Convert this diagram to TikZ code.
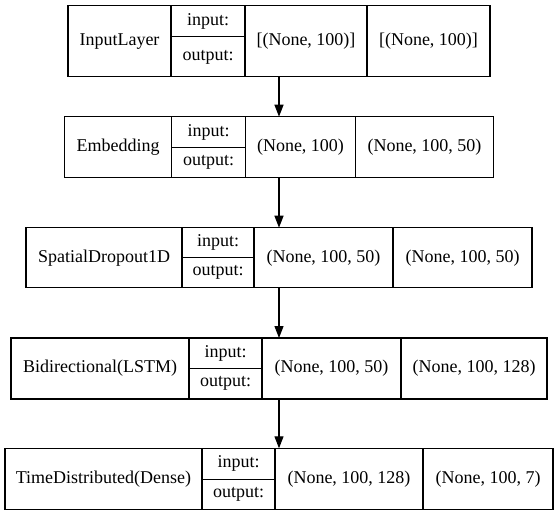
\documentclass[tikz,border=0pt]{standalone}
\usepackage{fontspec}
\setmainfont{Liberation Serif}
\newfontfamily\graphfont{Liberation Serif}
\usetikzlibrary{arrows.meta}

\tikzset{
    layer/.style={draw, line width=1.2pt, outer sep=0pt, inner sep=0pt},
    txt/.style={font=\graphfont\fontsize{18}{20}\selectfont, inner sep=0pt},
    flow/.style={line width=1.2pt, -{Triangle[length=12pt, width=9pt]}}
}

\begin{document}
\begin{tikzpicture}[x=1pt, y=-1pt]
    \useasboundingbox (0,0) rectangle (559,516);

    % InputLayer
    \node[layer, minimum width=422pt, minimum height=71pt] (input) at (279,41.2) {};
    \draw[line width=1.2pt] ([xshift=103pt]input.north west) -- ([xshift=103pt]input.south west);
    \draw[line width=1.2pt] ([xshift=177pt]input.north west) -- ([xshift=177pt]input.south west);
    \draw[line width=1.2pt] ([xshift=299pt]input.north west) -- ([xshift=299pt]input.south west);
    \draw[line width=1.2pt] ([xshift=103pt, yshift=-31pt]input.north west) -- ++(74,0);
    \node[txt] (inputName) at (119.5,41.2) {InputLayer};
    \node[txt] (inputIn) at (208,21.2) {input:};
    \node[txt] (inputOut) at (208,57.5) {output:};
    \node[txt] (inputShapeIn) at (306,41.2) {[(None, 100)]};
    \node[txt] (inputShapeOut) at (428.5,41.2) {[(None, 100)]};

    % Embedding
    \node[layer, minimum width=429pt, minimum height=61pt] (embed) at (279,147.2) {};
    \draw[line width=1.2pt] ([xshift=107pt]embed.north west) -- ([xshift=107pt]embed.south west);
    \draw[line width=1.2pt] ([xshift=181pt]embed.north west) -- ([xshift=181pt]embed.south west);
    \draw[line width=1.2pt] ([xshift=291pt]embed.north west) -- ([xshift=291pt]embed.south west);
    \draw[line width=1.2pt] ([xshift=107pt, yshift=-30.5pt]embed.north west) -- ++(74,0);
    \node[txt] (embedName) at (118,147.2) {Embedding};
    \node[txt] (embedIn) at (208.5,132) {input:};
    \node[txt] (embedOut) at (208.5,162.5) {output:};
    \node[txt] (embedShapeIn) at (300.5,147.2) {(None, 100)};
    \node[txt] (embedShapeOut) at (424.5,147.2) {(None, 100, 50)};

    % SpatialDropout1D
    \node[layer, minimum width=506pt, minimum height=60pt] (drop) at (279,257.7) {};
    \draw[line width=1.2pt] ([xshift=156pt]drop.north west) -- ([xshift=156pt]drop.south west);
    \draw[line width=1.2pt] ([xshift=228pt]drop.north west) -- ([xshift=228pt]drop.south west);
    \draw[line width=1.2pt] ([xshift=367pt]drop.north west) -- ([xshift=367pt]drop.south west);
    \draw[line width=1.2pt] ([xshift=156pt, yshift=-30pt]drop.north west) -- ++(72,0);
    \node[txt] (dropName) at (104,257.7) {SpatialDropout1D};
    \node[txt] (dropIn) at (218,242.7) {input:};
    \node[txt] (dropOut) at (218,272.7) {output:};
    \node[txt] (dropShapeIn) at (323.5,257.7) {(None, 100, 50)};
    \node[txt] (dropShapeOut) at (462.5,257.7) {(None, 100, 50)};

    % Bidirectional(LSTM)
    \node[layer, minimum width=536pt, minimum height=61pt] (bilstm) at (279,368.5) {};
    \draw[line width=1.2pt] ([xshift=178pt]bilstm.north west) -- ([xshift=178pt]bilstm.south west);
    \draw[line width=1.2pt] ([xshift=251pt]bilstm.north west) -- ([xshift=251pt]bilstm.south west);
    \draw[line width=1.2pt] ([xshift=390pt]bilstm.north west) -- ([xshift=390pt]bilstm.south west);
    \draw[line width=1.2pt] ([xshift=178pt, yshift=-30.3pt]bilstm.north west) -- ++(73,0);
    \node[txt] (bilstmName) at (100,368.5) {Bidirectional(LSTM)};
    \node[txt] (bilstmIn) at (225.5,353.2) {input:};
    \node[txt] (bilstmOut) at (225.5,383.7) {output:};
    \node[txt] (bilstmShapeIn) at (331.5,368.5) {(None, 100, 50)};
    \node[txt] (bilstmShapeOut) at (474,368.5) {(None, 100, 128)};

    % TimeDistributed(Dense)
    \node[layer, minimum width=548pt, minimum height=61pt] (dense) at (279,478.8) {};
    \draw[line width=1.2pt] ([xshift=197pt]dense.north west) -- ([xshift=197pt]dense.south west);
    \draw[line width=1.2pt] ([xshift=270pt]dense.north west) -- ([xshift=270pt]dense.south west);
    \draw[line width=1.2pt] ([xshift=418pt]dense.north west) -- ([xshift=418pt]dense.south west);
    \draw[line width=1.2pt] ([xshift=197pt, yshift=-31pt]dense.north west) -- ++(73,0);
    \node[txt] (denseName) at (103.5,478.8) {TimeDistributed(Dense)};
    \node[txt] (denseIn) at (238.5,463.8) {input:};
    \node[txt] (denseOut) at (238.5,494.3) {output:};
    \node[txt] (denseShapeIn) at (349,478.8) {(None, 100, 128)};
    \node[txt] (denseShapeOut) at (488,478.8) {(None, 100, 7)};

    % Connections
    \draw[flow] (input) -- (embed);
    \draw[flow] (embed) -- (drop);
    \draw[flow] (drop) -- (bilstm);
    \draw[flow] (bilstm) -- (dense);
\end{tikzpicture}
\end{document}
